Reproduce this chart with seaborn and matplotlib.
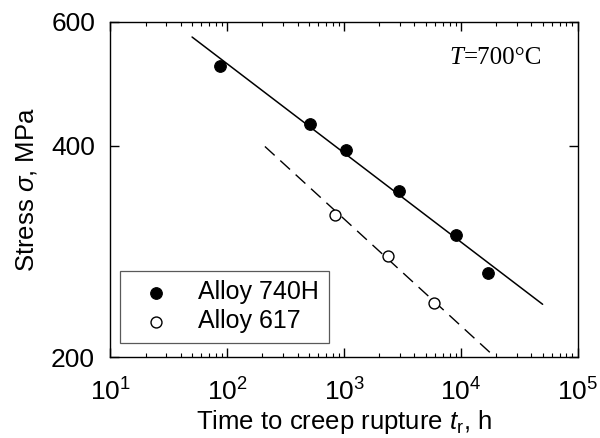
import numpy as np
import pandas as pd
import matplotlib
matplotlib.use("Agg")
import matplotlib.pyplot as plt
import matplotlib.ticker as mticker
import seaborn as sns

# dati (tempo a rottura in h, sforzo in MPa)
t_740h = [87, 506, 1038, 2930, 9140, 17090]
s_740h = [520, 430, 394, 345, 299, 264]
t_617 = [836, 2377, 5924]
s_617 = [319, 279, 239]

# rette di fit (estremi)
fit_740h_t = [50, 50000]
fit_740h_s = [571, 238]
fit_617_t = [210, 19700]
fit_617_s = [399, 200]

sns.set_style("ticks")
plt.rcParams["font.family"] = ["Liberation Sans", "DejaVu Sans"]
plt.rcParams["mathtext.fontset"] = "custom"
plt.rcParams["mathtext.rm"] = "Liberation Sans"
plt.rcParams["mathtext.it"] = "Liberation Sans:italic"
plt.rcParams["mathtext.default"] = "regular"
plt.rcParams["text.color"] = "black"
plt.rcParams["axes.labelcolor"] = "black"
plt.rcParams["xtick.labelcolor"] = "black"
plt.rcParams["ytick.labelcolor"] = "black"

df_a = pd.DataFrame({"t": t_740h, "s": s_740h})
df_b = pd.DataFrame({"t": t_617, "s": s_617})
fit_a = pd.DataFrame({"t": fit_740h_t, "s": fit_740h_s})
fit_b = pd.DataFrame({"t": fit_617_t, "s": fit_617_s})

fig = plt.figure(figsize=(6, 4.38), dpi=100)
ax = fig.add_axes([0.184, 0.184, 0.779, 0.766])

sns.lineplot(data=fit_a, x="t", y="s", ax=ax, color="black", lw=1.1)
sns.lineplot(data=fit_b, x="t", y="s", ax=ax, color="black", lw=1.0,
             dashes=False)
ax.lines[-1].set_dashes((9.5, 5.5))

sns.scatterplot(data=df_a, x="t", y="s", ax=ax, color="black", s=70,
                edgecolor="black", linewidth=0.8, label="Alloy 740H", zorder=3)
sns.scatterplot(data=df_b, x="t", y="s", ax=ax, facecolor="white", s=62,
                edgecolor="black", linewidth=1.0, label="Alloy 617", zorder=3)

ax.set_xscale("log")
ax.set_yscale("log")
ax.set_xlim(10, 1e5)
ax.set_ylim(200, 600)

ax.xaxis.set_major_locator(mticker.LogLocator(base=10, numticks=10))
ax.xaxis.set_minor_locator(mticker.LogLocator(base=10, subs=np.arange(2, 10), numticks=10))
ax.yaxis.set_major_locator(mticker.FixedLocator([200, 400, 600]))
ax.yaxis.set_major_formatter(mticker.FormatStrFormatter("%d"))
ax.yaxis.set_minor_locator(mticker.NullLocator())

ax.tick_params(which="both", direction="in", top=True, right=True, color="black")
ax.tick_params(which="major", length=6.5, width=1.0)
ax.tick_params(which="minor", length=3, width=0.8)
ax.tick_params(axis="x", which="major", labelsize=19, pad=15)
ax.tick_params(axis="y", which="major", labelsize=19, pad=11)
for sp in ax.spines.values():
    sp.set_linewidth(1.0)
    sp.set_color("black")

ax.set_xlabel(r"Time to creep rupture $\mathit{t}_{r}$, h", fontsize=18.5, labelpad=2)
ax.set_ylabel(r"Stress $\mathit{\sigma}$, MPa", fontsize=18.5, labelpad=9)

t1 = ax.text(0.726, 0.893, "T", transform=ax.transAxes, fontsize=18,
             family="Liberation Serif", style="italic", va="center", ha="left")
ax.annotate("=700°C", xy=(1, 0), xycoords=t1, va="bottom", ha="left",
            fontsize=18, family="Liberation Serif")

ax.legend(loc="lower left", bbox_to_anchor=(0.021, 0.043), frameon=True,
          fancybox=False, edgecolor="0.35", framealpha=1, fontsize=18,
          handlelength=2.1, handletextpad=0.65, borderpad=0.38,
          labelspacing=0.2, borderaxespad=0)
ax.get_legend().get_frame().set_linewidth(0.9)

fig.savefig("out.png", dpi=100)
